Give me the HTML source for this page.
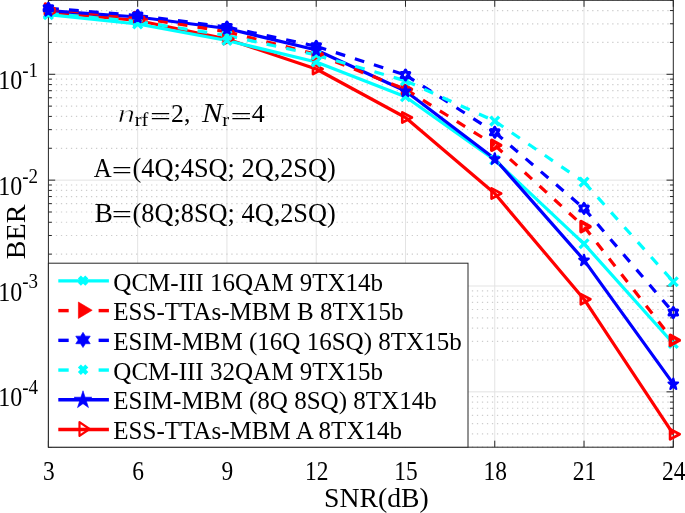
<!DOCTYPE html>
<html><head><meta charset="utf-8"><title>BER vs SNR</title>
<style>html,body{margin:0;padding:0;background:#fff;overflow:hidden}svg{display:block}</style>
</head><body>
<svg width="685" height="513" viewBox="0 0 685 513">
<rect x="0" y="0" width="685" height="513" fill="#fff"/>
<line x1="137.67" y1="0.3" x2="137.67" y2="447.2" stroke="#e3e3e3" stroke-width="1"/>
<line x1="226.94" y1="0.3" x2="226.94" y2="447.2" stroke="#e3e3e3" stroke-width="1"/>
<line x1="316.21" y1="0.3" x2="316.21" y2="447.2" stroke="#e3e3e3" stroke-width="1"/>
<line x1="405.49" y1="0.3" x2="405.49" y2="447.2" stroke="#e3e3e3" stroke-width="1"/>
<line x1="494.76" y1="0.3" x2="494.76" y2="447.2" stroke="#e3e3e3" stroke-width="1"/>
<line x1="584.03" y1="0.3" x2="584.03" y2="447.2" stroke="#e3e3e3" stroke-width="1"/>
<line x1="48.4" y1="391.85" x2="673.3" y2="391.85" stroke="#e3e3e3" stroke-width="1"/>
<line x1="48.4" y1="286.00" x2="673.3" y2="286.00" stroke="#e3e3e3" stroke-width="1"/>
<line x1="48.4" y1="180.14" x2="673.3" y2="180.14" stroke="#e3e3e3" stroke-width="1"/>
<line x1="48.4" y1="74.29" x2="673.3" y2="74.29" stroke="#e3e3e3" stroke-width="1"/>
<line x1="50.85" y1="447.20" x2="673.3" y2="447.20" stroke="#cdcdcd" stroke-width="1.2" stroke-dasharray="1.3 3.712"/>
<line x1="50.85" y1="433.97" x2="673.3" y2="433.97" stroke="#cdcdcd" stroke-width="1.2" stroke-dasharray="1.3 3.712"/>
<line x1="50.85" y1="423.72" x2="673.3" y2="423.72" stroke="#cdcdcd" stroke-width="1.2" stroke-dasharray="1.3 3.712"/>
<line x1="50.85" y1="415.33" x2="673.3" y2="415.33" stroke="#cdcdcd" stroke-width="1.2" stroke-dasharray="1.3 3.712"/>
<line x1="50.85" y1="408.25" x2="673.3" y2="408.25" stroke="#cdcdcd" stroke-width="1.2" stroke-dasharray="1.3 3.712"/>
<line x1="50.85" y1="402.11" x2="673.3" y2="402.11" stroke="#cdcdcd" stroke-width="1.2" stroke-dasharray="1.3 3.712"/>
<line x1="50.85" y1="396.69" x2="673.3" y2="396.69" stroke="#cdcdcd" stroke-width="1.2" stroke-dasharray="1.3 3.712"/>
<line x1="50.85" y1="359.99" x2="673.3" y2="359.99" stroke="#cdcdcd" stroke-width="1.2" stroke-dasharray="1.3 3.712"/>
<line x1="50.85" y1="341.35" x2="673.3" y2="341.35" stroke="#cdcdcd" stroke-width="1.2" stroke-dasharray="1.3 3.712"/>
<line x1="50.85" y1="328.12" x2="673.3" y2="328.12" stroke="#cdcdcd" stroke-width="1.2" stroke-dasharray="1.3 3.712"/>
<line x1="50.85" y1="317.86" x2="673.3" y2="317.86" stroke="#cdcdcd" stroke-width="1.2" stroke-dasharray="1.3 3.712"/>
<line x1="50.85" y1="309.48" x2="673.3" y2="309.48" stroke="#cdcdcd" stroke-width="1.2" stroke-dasharray="1.3 3.712"/>
<line x1="50.85" y1="302.39" x2="673.3" y2="302.39" stroke="#cdcdcd" stroke-width="1.2" stroke-dasharray="1.3 3.712"/>
<line x1="50.85" y1="296.26" x2="673.3" y2="296.26" stroke="#cdcdcd" stroke-width="1.2" stroke-dasharray="1.3 3.712"/>
<line x1="50.85" y1="290.84" x2="673.3" y2="290.84" stroke="#cdcdcd" stroke-width="1.2" stroke-dasharray="1.3 3.712"/>
<line x1="50.85" y1="254.13" x2="673.3" y2="254.13" stroke="#cdcdcd" stroke-width="1.2" stroke-dasharray="1.3 3.712"/>
<line x1="50.85" y1="235.49" x2="673.3" y2="235.49" stroke="#cdcdcd" stroke-width="1.2" stroke-dasharray="1.3 3.712"/>
<line x1="50.85" y1="222.27" x2="673.3" y2="222.27" stroke="#cdcdcd" stroke-width="1.2" stroke-dasharray="1.3 3.712"/>
<line x1="50.85" y1="212.01" x2="673.3" y2="212.01" stroke="#cdcdcd" stroke-width="1.2" stroke-dasharray="1.3 3.712"/>
<line x1="50.85" y1="203.63" x2="673.3" y2="203.63" stroke="#cdcdcd" stroke-width="1.2" stroke-dasharray="1.3 3.712"/>
<line x1="50.85" y1="196.54" x2="673.3" y2="196.54" stroke="#cdcdcd" stroke-width="1.2" stroke-dasharray="1.3 3.712"/>
<line x1="50.85" y1="190.40" x2="673.3" y2="190.40" stroke="#cdcdcd" stroke-width="1.2" stroke-dasharray="1.3 3.712"/>
<line x1="50.85" y1="184.99" x2="673.3" y2="184.99" stroke="#cdcdcd" stroke-width="1.2" stroke-dasharray="1.3 3.712"/>
<line x1="50.85" y1="148.28" x2="673.3" y2="148.28" stroke="#cdcdcd" stroke-width="1.2" stroke-dasharray="1.3 3.712"/>
<line x1="50.85" y1="129.64" x2="673.3" y2="129.64" stroke="#cdcdcd" stroke-width="1.2" stroke-dasharray="1.3 3.712"/>
<line x1="50.85" y1="116.41" x2="673.3" y2="116.41" stroke="#cdcdcd" stroke-width="1.2" stroke-dasharray="1.3 3.712"/>
<line x1="50.85" y1="106.15" x2="673.3" y2="106.15" stroke="#cdcdcd" stroke-width="1.2" stroke-dasharray="1.3 3.712"/>
<line x1="50.85" y1="97.77" x2="673.3" y2="97.77" stroke="#cdcdcd" stroke-width="1.2" stroke-dasharray="1.3 3.712"/>
<line x1="50.85" y1="90.69" x2="673.3" y2="90.69" stroke="#cdcdcd" stroke-width="1.2" stroke-dasharray="1.3 3.712"/>
<line x1="50.85" y1="84.55" x2="673.3" y2="84.55" stroke="#cdcdcd" stroke-width="1.2" stroke-dasharray="1.3 3.712"/>
<line x1="50.85" y1="79.13" x2="673.3" y2="79.13" stroke="#cdcdcd" stroke-width="1.2" stroke-dasharray="1.3 3.712"/>
<line x1="50.85" y1="42.42" x2="673.3" y2="42.42" stroke="#cdcdcd" stroke-width="1.2" stroke-dasharray="1.3 3.712"/>
<line x1="50.85" y1="23.78" x2="673.3" y2="23.78" stroke="#cdcdcd" stroke-width="1.2" stroke-dasharray="1.3 3.712"/>
<line x1="50.85" y1="10.56" x2="673.3" y2="10.56" stroke="#cdcdcd" stroke-width="1.2" stroke-dasharray="1.3 3.712"/>
<line x1="50.85" y1="0.30" x2="673.3" y2="0.30" stroke="#cdcdcd" stroke-width="1.2" stroke-dasharray="1.3 3.712"/>
<rect x="48.4" y="0.3" width="624.90" height="446.90" fill="none" stroke="#262626" stroke-width="1"/>
<line x1="48.40" y1="447.2" x2="48.40" y2="440.7" stroke="#262626" stroke-width="1"/>
<line x1="48.40" y1="0.3" x2="48.40" y2="6.8" stroke="#262626" stroke-width="1"/>
<line x1="137.67" y1="447.2" x2="137.67" y2="440.7" stroke="#262626" stroke-width="1"/>
<line x1="137.67" y1="0.3" x2="137.67" y2="6.8" stroke="#262626" stroke-width="1"/>
<line x1="226.94" y1="447.2" x2="226.94" y2="440.7" stroke="#262626" stroke-width="1"/>
<line x1="226.94" y1="0.3" x2="226.94" y2="6.8" stroke="#262626" stroke-width="1"/>
<line x1="316.21" y1="447.2" x2="316.21" y2="440.7" stroke="#262626" stroke-width="1"/>
<line x1="316.21" y1="0.3" x2="316.21" y2="6.8" stroke="#262626" stroke-width="1"/>
<line x1="405.49" y1="447.2" x2="405.49" y2="440.7" stroke="#262626" stroke-width="1"/>
<line x1="405.49" y1="0.3" x2="405.49" y2="6.8" stroke="#262626" stroke-width="1"/>
<line x1="494.76" y1="447.2" x2="494.76" y2="440.7" stroke="#262626" stroke-width="1"/>
<line x1="494.76" y1="0.3" x2="494.76" y2="6.8" stroke="#262626" stroke-width="1"/>
<line x1="584.03" y1="447.2" x2="584.03" y2="440.7" stroke="#262626" stroke-width="1"/>
<line x1="584.03" y1="0.3" x2="584.03" y2="6.8" stroke="#262626" stroke-width="1"/>
<line x1="673.30" y1="447.2" x2="673.30" y2="440.7" stroke="#262626" stroke-width="1"/>
<line x1="673.30" y1="0.3" x2="673.30" y2="6.8" stroke="#262626" stroke-width="1"/>
<line x1="48.4" y1="447.20" x2="51.8" y2="447.20" stroke="#262626" stroke-width="1"/>
<line x1="673.3" y1="447.20" x2="669.9" y2="447.20" stroke="#262626" stroke-width="1"/>
<line x1="48.4" y1="433.97" x2="51.8" y2="433.97" stroke="#262626" stroke-width="1"/>
<line x1="673.3" y1="433.97" x2="669.9" y2="433.97" stroke="#262626" stroke-width="1"/>
<line x1="48.4" y1="423.72" x2="51.8" y2="423.72" stroke="#262626" stroke-width="1"/>
<line x1="673.3" y1="423.72" x2="669.9" y2="423.72" stroke="#262626" stroke-width="1"/>
<line x1="48.4" y1="415.33" x2="51.8" y2="415.33" stroke="#262626" stroke-width="1"/>
<line x1="673.3" y1="415.33" x2="669.9" y2="415.33" stroke="#262626" stroke-width="1"/>
<line x1="48.4" y1="408.25" x2="51.8" y2="408.25" stroke="#262626" stroke-width="1"/>
<line x1="673.3" y1="408.25" x2="669.9" y2="408.25" stroke="#262626" stroke-width="1"/>
<line x1="48.4" y1="402.11" x2="51.8" y2="402.11" stroke="#262626" stroke-width="1"/>
<line x1="673.3" y1="402.11" x2="669.9" y2="402.11" stroke="#262626" stroke-width="1"/>
<line x1="48.4" y1="396.69" x2="51.8" y2="396.69" stroke="#262626" stroke-width="1"/>
<line x1="673.3" y1="396.69" x2="669.9" y2="396.69" stroke="#262626" stroke-width="1"/>
<line x1="48.4" y1="391.85" x2="55.199999999999996" y2="391.85" stroke="#262626" stroke-width="1"/>
<line x1="673.3" y1="391.85" x2="666.5" y2="391.85" stroke="#262626" stroke-width="1"/>
<line x1="48.4" y1="359.99" x2="51.8" y2="359.99" stroke="#262626" stroke-width="1"/>
<line x1="673.3" y1="359.99" x2="669.9" y2="359.99" stroke="#262626" stroke-width="1"/>
<line x1="48.4" y1="341.35" x2="51.8" y2="341.35" stroke="#262626" stroke-width="1"/>
<line x1="673.3" y1="341.35" x2="669.9" y2="341.35" stroke="#262626" stroke-width="1"/>
<line x1="48.4" y1="328.12" x2="51.8" y2="328.12" stroke="#262626" stroke-width="1"/>
<line x1="673.3" y1="328.12" x2="669.9" y2="328.12" stroke="#262626" stroke-width="1"/>
<line x1="48.4" y1="317.86" x2="51.8" y2="317.86" stroke="#262626" stroke-width="1"/>
<line x1="673.3" y1="317.86" x2="669.9" y2="317.86" stroke="#262626" stroke-width="1"/>
<line x1="48.4" y1="309.48" x2="51.8" y2="309.48" stroke="#262626" stroke-width="1"/>
<line x1="673.3" y1="309.48" x2="669.9" y2="309.48" stroke="#262626" stroke-width="1"/>
<line x1="48.4" y1="302.39" x2="51.8" y2="302.39" stroke="#262626" stroke-width="1"/>
<line x1="673.3" y1="302.39" x2="669.9" y2="302.39" stroke="#262626" stroke-width="1"/>
<line x1="48.4" y1="296.26" x2="51.8" y2="296.26" stroke="#262626" stroke-width="1"/>
<line x1="673.3" y1="296.26" x2="669.9" y2="296.26" stroke="#262626" stroke-width="1"/>
<line x1="48.4" y1="290.84" x2="51.8" y2="290.84" stroke="#262626" stroke-width="1"/>
<line x1="673.3" y1="290.84" x2="669.9" y2="290.84" stroke="#262626" stroke-width="1"/>
<line x1="48.4" y1="286.00" x2="55.199999999999996" y2="286.00" stroke="#262626" stroke-width="1"/>
<line x1="673.3" y1="286.00" x2="666.5" y2="286.00" stroke="#262626" stroke-width="1"/>
<line x1="48.4" y1="254.13" x2="51.8" y2="254.13" stroke="#262626" stroke-width="1"/>
<line x1="673.3" y1="254.13" x2="669.9" y2="254.13" stroke="#262626" stroke-width="1"/>
<line x1="48.4" y1="235.49" x2="51.8" y2="235.49" stroke="#262626" stroke-width="1"/>
<line x1="673.3" y1="235.49" x2="669.9" y2="235.49" stroke="#262626" stroke-width="1"/>
<line x1="48.4" y1="222.27" x2="51.8" y2="222.27" stroke="#262626" stroke-width="1"/>
<line x1="673.3" y1="222.27" x2="669.9" y2="222.27" stroke="#262626" stroke-width="1"/>
<line x1="48.4" y1="212.01" x2="51.8" y2="212.01" stroke="#262626" stroke-width="1"/>
<line x1="673.3" y1="212.01" x2="669.9" y2="212.01" stroke="#262626" stroke-width="1"/>
<line x1="48.4" y1="203.63" x2="51.8" y2="203.63" stroke="#262626" stroke-width="1"/>
<line x1="673.3" y1="203.63" x2="669.9" y2="203.63" stroke="#262626" stroke-width="1"/>
<line x1="48.4" y1="196.54" x2="51.8" y2="196.54" stroke="#262626" stroke-width="1"/>
<line x1="673.3" y1="196.54" x2="669.9" y2="196.54" stroke="#262626" stroke-width="1"/>
<line x1="48.4" y1="190.40" x2="51.8" y2="190.40" stroke="#262626" stroke-width="1"/>
<line x1="673.3" y1="190.40" x2="669.9" y2="190.40" stroke="#262626" stroke-width="1"/>
<line x1="48.4" y1="184.99" x2="51.8" y2="184.99" stroke="#262626" stroke-width="1"/>
<line x1="673.3" y1="184.99" x2="669.9" y2="184.99" stroke="#262626" stroke-width="1"/>
<line x1="48.4" y1="180.14" x2="55.199999999999996" y2="180.14" stroke="#262626" stroke-width="1"/>
<line x1="673.3" y1="180.14" x2="666.5" y2="180.14" stroke="#262626" stroke-width="1"/>
<line x1="48.4" y1="148.28" x2="51.8" y2="148.28" stroke="#262626" stroke-width="1"/>
<line x1="673.3" y1="148.28" x2="669.9" y2="148.28" stroke="#262626" stroke-width="1"/>
<line x1="48.4" y1="129.64" x2="51.8" y2="129.64" stroke="#262626" stroke-width="1"/>
<line x1="673.3" y1="129.64" x2="669.9" y2="129.64" stroke="#262626" stroke-width="1"/>
<line x1="48.4" y1="116.41" x2="51.8" y2="116.41" stroke="#262626" stroke-width="1"/>
<line x1="673.3" y1="116.41" x2="669.9" y2="116.41" stroke="#262626" stroke-width="1"/>
<line x1="48.4" y1="106.15" x2="51.8" y2="106.15" stroke="#262626" stroke-width="1"/>
<line x1="673.3" y1="106.15" x2="669.9" y2="106.15" stroke="#262626" stroke-width="1"/>
<line x1="48.4" y1="97.77" x2="51.8" y2="97.77" stroke="#262626" stroke-width="1"/>
<line x1="673.3" y1="97.77" x2="669.9" y2="97.77" stroke="#262626" stroke-width="1"/>
<line x1="48.4" y1="90.69" x2="51.8" y2="90.69" stroke="#262626" stroke-width="1"/>
<line x1="673.3" y1="90.69" x2="669.9" y2="90.69" stroke="#262626" stroke-width="1"/>
<line x1="48.4" y1="84.55" x2="51.8" y2="84.55" stroke="#262626" stroke-width="1"/>
<line x1="673.3" y1="84.55" x2="669.9" y2="84.55" stroke="#262626" stroke-width="1"/>
<line x1="48.4" y1="79.13" x2="51.8" y2="79.13" stroke="#262626" stroke-width="1"/>
<line x1="673.3" y1="79.13" x2="669.9" y2="79.13" stroke="#262626" stroke-width="1"/>
<line x1="48.4" y1="74.29" x2="55.199999999999996" y2="74.29" stroke="#262626" stroke-width="1"/>
<line x1="673.3" y1="74.29" x2="666.5" y2="74.29" stroke="#262626" stroke-width="1"/>
<line x1="48.4" y1="42.42" x2="51.8" y2="42.42" stroke="#262626" stroke-width="1"/>
<line x1="673.3" y1="42.42" x2="669.9" y2="42.42" stroke="#262626" stroke-width="1"/>
<line x1="48.4" y1="23.78" x2="51.8" y2="23.78" stroke="#262626" stroke-width="1"/>
<line x1="673.3" y1="23.78" x2="669.9" y2="23.78" stroke="#262626" stroke-width="1"/>
<line x1="48.4" y1="10.56" x2="51.8" y2="10.56" stroke="#262626" stroke-width="1"/>
<line x1="673.3" y1="10.56" x2="669.9" y2="10.56" stroke="#262626" stroke-width="1"/>
<line x1="48.4" y1="0.30" x2="51.8" y2="0.30" stroke="#262626" stroke-width="1"/>
<line x1="673.3" y1="0.30" x2="669.9" y2="0.30" stroke="#262626" stroke-width="1"/>
<polyline points="48.40,12.20 137.67,20.50 226.94,39.00 316.21,69.00 405.49,117.50 494.76,193.50 584.03,299.20 673.30,434.20" fill="none" stroke="#ff0000" stroke-width="3.2" stroke-linejoin="round"/>
<polyline points="48.40,14.70 137.67,24.00 226.94,40.50 316.21,62.00 405.49,96.80 494.76,160.00 584.03,243.80 673.30,343.50" fill="none" stroke="#00ffff" stroke-width="3.2" stroke-linejoin="round"/>
<polyline points="48.40,10.60 137.67,17.00 226.94,28.50 316.21,50.00 405.49,91.00 494.76,158.70 584.03,260.10 673.30,383.90" fill="none" stroke="#0000ff" stroke-width="3.2" stroke-linejoin="round"/>
<path d="M48.40 9.00L137.67 17.60" fill="none" stroke="#ff0000" stroke-width="3.2" stroke-dasharray="9.8 10.2" stroke-dashoffset="-0.6"/>
<path d="M137.67 17.60L226.94 31.80" fill="none" stroke="#ff0000" stroke-width="3.2" stroke-dasharray="9.8 10.2" stroke-dashoffset="-0.6"/>
<path d="M226.94 31.80L316.21 54.30" fill="none" stroke="#ff0000" stroke-width="3.2" stroke-dasharray="9.8 10.2" stroke-dashoffset="-0.6"/>
<path d="M316.21 54.30L405.49 89.20" fill="none" stroke="#ff0000" stroke-width="3.2" stroke-dasharray="9.8 10.2" stroke-dashoffset="-0.6"/>
<path d="M405.49 89.20L494.76 145.20" fill="none" stroke="#ff0000" stroke-width="3.2" stroke-dasharray="9.8 10.2" stroke-dashoffset="-0.6"/>
<path d="M494.76 145.20L584.03 226.60" fill="none" stroke="#ff0000" stroke-width="3.2" stroke-dasharray="9.8 10.2" stroke-dashoffset="-0.6"/>
<path d="M584.03 226.60L673.30 340.30" fill="none" stroke="#ff0000" stroke-width="3.2" stroke-dasharray="9.8 10.2" stroke-dashoffset="-0.6"/>
<path d="M48.40 8.20L137.67 15.50" fill="none" stroke="#0000ff" stroke-width="3.2" stroke-dasharray="9.8 10.2" stroke-dashoffset="-0.6"/>
<path d="M137.67 15.50L226.94 27.00" fill="none" stroke="#0000ff" stroke-width="3.2" stroke-dasharray="9.8 10.2" stroke-dashoffset="-0.6"/>
<path d="M226.94 27.00L316.21 46.30" fill="none" stroke="#0000ff" stroke-width="3.2" stroke-dasharray="9.8 10.2" stroke-dashoffset="-0.6"/>
<path d="M316.21 46.30L405.49 75.00" fill="none" stroke="#0000ff" stroke-width="3.2" stroke-dasharray="9.8 10.2" stroke-dashoffset="-0.6"/>
<path d="M405.49 75.00L494.76 132.30" fill="none" stroke="#0000ff" stroke-width="3.2" stroke-dasharray="9.8 10.2" stroke-dashoffset="-0.6"/>
<path d="M494.76 132.30L584.03 208.40" fill="none" stroke="#0000ff" stroke-width="3.2" stroke-dasharray="9.8 10.2" stroke-dashoffset="-0.6"/>
<path d="M584.03 208.40L673.30 312.50" fill="none" stroke="#0000ff" stroke-width="3.2" stroke-dasharray="9.8 10.2" stroke-dashoffset="-0.6"/>
<path d="M48.40 13.50L137.67 21.50" fill="none" stroke="#00ffff" stroke-width="3.2" stroke-dasharray="9.8 10.2" stroke-dashoffset="-0.6"/>
<path d="M137.67 21.50L226.94 35.50" fill="none" stroke="#00ffff" stroke-width="3.2" stroke-dasharray="9.8 10.2" stroke-dashoffset="-0.6"/>
<path d="M226.94 35.50L316.21 55.00" fill="none" stroke="#00ffff" stroke-width="3.2" stroke-dasharray="9.8 10.2" stroke-dashoffset="-0.6"/>
<path d="M316.21 55.00L405.49 80.80" fill="none" stroke="#00ffff" stroke-width="3.2" stroke-dasharray="9.8 10.2" stroke-dashoffset="-0.6"/>
<path d="M405.49 80.80L494.76 121.10" fill="none" stroke="#00ffff" stroke-width="3.2" stroke-dasharray="9.8 10.2" stroke-dashoffset="-0.6"/>
<path d="M494.76 121.10L584.03 182.10" fill="none" stroke="#00ffff" stroke-width="3.2" stroke-dasharray="9.8 10.2" stroke-dashoffset="-0.6"/>
<path d="M584.03 182.10L673.30 281.70" fill="none" stroke="#00ffff" stroke-width="3.2" stroke-dasharray="9.8 10.2" stroke-dashoffset="-0.6"/>
<polygon points="45.20,7.10 54.80,12.20 45.20,17.30" fill="none" stroke="#ff0000" stroke-width="2.7" stroke-linejoin="round"/>
<polygon points="134.47,15.40 144.07,20.50 134.47,25.60" fill="none" stroke="#ff0000" stroke-width="2.7" stroke-linejoin="round"/>
<polygon points="223.74,33.90 233.34,39.00 223.74,44.10" fill="none" stroke="#ff0000" stroke-width="2.7" stroke-linejoin="round"/>
<polygon points="313.01,63.90 322.61,69.00 313.01,74.10" fill="none" stroke="#ff0000" stroke-width="2.7" stroke-linejoin="round"/>
<polygon points="402.29,112.40 411.89,117.50 402.29,122.60" fill="none" stroke="#ff0000" stroke-width="2.7" stroke-linejoin="round"/>
<polygon points="491.56,188.40 501.16,193.50 491.56,198.60" fill="none" stroke="#ff0000" stroke-width="2.7" stroke-linejoin="round"/>
<polygon points="580.83,294.10 590.43,299.20 580.83,304.30" fill="none" stroke="#ff0000" stroke-width="2.7" stroke-linejoin="round"/>
<polygon points="670.10,429.10 679.70,434.20 670.10,439.30" fill="none" stroke="#ff0000" stroke-width="2.7" stroke-linejoin="round"/>
<path d="M44.00 10.30L52.80 19.10M44.00 19.10L52.80 10.30" stroke="#00ffff" stroke-width="3.3" fill="none"/>
<path d="M133.27 19.60L142.07 28.40M133.27 28.40L142.07 19.60" stroke="#00ffff" stroke-width="3.3" fill="none"/>
<path d="M222.54 36.10L231.34 44.90M222.54 44.90L231.34 36.10" stroke="#00ffff" stroke-width="3.3" fill="none"/>
<path d="M311.81 57.60L320.61 66.40M311.81 66.40L320.61 57.60" stroke="#00ffff" stroke-width="3.3" fill="none"/>
<path d="M401.09 92.40L409.89 101.20M401.09 101.20L409.89 92.40" stroke="#00ffff" stroke-width="3.3" fill="none"/>
<path d="M490.36 155.60L499.16 164.40M490.36 164.40L499.16 155.60" stroke="#00ffff" stroke-width="3.3" fill="none"/>
<path d="M579.63 239.40L588.43 248.20M579.63 248.20L588.43 239.40" stroke="#00ffff" stroke-width="3.3" fill="none"/>
<path d="M668.90 339.10L677.70 347.90M668.90 347.90L677.70 339.10" stroke="#00ffff" stroke-width="3.3" fill="none"/>
<polygon points="45.40,4.00 54.40,9.00 45.40,14.00" fill="none" stroke="#ff0000" stroke-width="3.5" stroke-linejoin="round"/>
<polygon points="134.67,12.60 143.67,17.60 134.67,22.60" fill="none" stroke="#ff0000" stroke-width="3.5" stroke-linejoin="round"/>
<polygon points="223.94,26.80 232.94,31.80 223.94,36.80" fill="none" stroke="#ff0000" stroke-width="3.5" stroke-linejoin="round"/>
<polygon points="313.21,49.30 322.21,54.30 313.21,59.30" fill="none" stroke="#ff0000" stroke-width="3.5" stroke-linejoin="round"/>
<polygon points="402.49,84.20 411.49,89.20 402.49,94.20" fill="none" stroke="#ff0000" stroke-width="3.5" stroke-linejoin="round"/>
<polygon points="491.76,140.20 500.76,145.20 491.76,150.20" fill="none" stroke="#ff0000" stroke-width="3.5" stroke-linejoin="round"/>
<polygon points="581.03,221.60 590.03,226.60 581.03,231.60" fill="none" stroke="#ff0000" stroke-width="3.5" stroke-linejoin="round"/>
<polygon points="670.30,335.30 679.30,340.30 670.30,345.30" fill="none" stroke="#ff0000" stroke-width="3.5" stroke-linejoin="round"/>
<path d="M44.00 9.10L52.80 17.90M44.00 17.90L52.80 9.10" stroke="#00ffff" stroke-width="3.3" fill="none"/>
<path d="M133.27 17.10L142.07 25.90M133.27 25.90L142.07 17.10" stroke="#00ffff" stroke-width="3.3" fill="none"/>
<path d="M222.54 31.10L231.34 39.90M222.54 39.90L231.34 31.10" stroke="#00ffff" stroke-width="3.3" fill="none"/>
<path d="M311.81 50.60L320.61 59.40M311.81 59.40L320.61 50.60" stroke="#00ffff" stroke-width="3.3" fill="none"/>
<path d="M401.09 76.40L409.89 85.20M401.09 85.20L409.89 76.40" stroke="#00ffff" stroke-width="3.3" fill="none"/>
<path d="M490.36 116.70L499.16 125.50M490.36 125.50L499.16 116.70" stroke="#00ffff" stroke-width="3.3" fill="none"/>
<path d="M579.63 177.70L588.43 186.50M579.63 186.50L588.43 177.70" stroke="#00ffff" stroke-width="3.3" fill="none"/>
<path d="M668.90 277.30L677.70 286.10M668.90 286.10L677.70 277.30" stroke="#00ffff" stroke-width="3.3" fill="none"/>
<polygon points="48.40,3.30 49.81,5.75 52.64,5.75 51.23,8.20 52.64,10.65 49.81,10.65 48.40,13.10 46.99,10.65 44.16,10.65 45.57,8.20 44.16,5.75 46.99,5.75" fill="none" stroke="#0000ff" stroke-width="3.1" stroke-linejoin="round"/>
<polygon points="137.67,10.60 139.09,13.05 141.91,13.05 140.50,15.50 141.91,17.95 139.09,17.95 137.67,20.40 136.26,17.95 133.43,17.95 134.84,15.50 133.43,13.05 136.26,13.05" fill="none" stroke="#0000ff" stroke-width="3.1" stroke-linejoin="round"/>
<polygon points="226.94,22.10 228.36,24.55 231.19,24.55 229.77,27.00 231.19,29.45 228.36,29.45 226.94,31.90 225.53,29.45 222.70,29.45 224.12,27.00 222.70,24.55 225.53,24.55" fill="none" stroke="#0000ff" stroke-width="3.1" stroke-linejoin="round"/>
<polygon points="316.21,41.40 317.63,43.85 320.46,43.85 319.04,46.30 320.46,48.75 317.63,48.75 316.21,51.20 314.80,48.75 311.97,48.75 313.39,46.30 311.97,43.85 314.80,43.85" fill="none" stroke="#0000ff" stroke-width="3.1" stroke-linejoin="round"/>
<polygon points="405.49,70.10 406.90,72.55 409.73,72.55 408.31,75.00 409.73,77.45 406.90,77.45 405.49,79.90 404.07,77.45 401.24,77.45 402.66,75.00 401.24,72.55 404.07,72.55" fill="none" stroke="#0000ff" stroke-width="3.1" stroke-linejoin="round"/>
<polygon points="494.76,127.40 496.17,129.85 499.00,129.85 497.58,132.30 499.00,134.75 496.17,134.75 494.76,137.20 493.34,134.75 490.51,134.75 491.93,132.30 490.51,129.85 493.34,129.85" fill="none" stroke="#0000ff" stroke-width="3.1" stroke-linejoin="round"/>
<polygon points="584.03,203.50 585.44,205.95 588.27,205.95 586.86,208.40 588.27,210.85 585.44,210.85 584.03,213.30 582.61,210.85 579.79,210.85 581.20,208.40 579.79,205.95 582.61,205.95" fill="none" stroke="#0000ff" stroke-width="3.1" stroke-linejoin="round"/>
<polygon points="673.30,307.60 674.71,310.05 677.54,310.05 676.13,312.50 677.54,314.95 674.71,314.95 673.30,317.40 671.89,314.95 669.06,314.95 670.47,312.50 669.06,310.05 671.89,310.05" fill="none" stroke="#0000ff" stroke-width="3.1" stroke-linejoin="round"/>
<polygon points="48.40,5.25 49.52,9.22 53.16,9.22 50.22,11.68 51.34,15.65 48.40,13.20 45.46,15.65 46.58,11.68 43.64,9.22 47.28,9.22" fill="#0000ff" stroke="#0000ff" stroke-width="2.2" stroke-linejoin="round"/>
<polygon points="137.67,11.65 138.79,15.62 142.43,15.62 139.49,18.08 140.61,22.05 137.67,19.60 134.73,22.05 135.85,18.08 132.92,15.62 136.55,15.62" fill="#0000ff" stroke="#0000ff" stroke-width="2.2" stroke-linejoin="round"/>
<polygon points="226.94,23.15 228.07,27.12 231.70,27.12 228.76,29.58 229.88,33.55 226.94,31.10 224.00,33.55 225.13,29.58 222.19,27.12 225.82,27.12" fill="#0000ff" stroke="#0000ff" stroke-width="2.2" stroke-linejoin="round"/>
<polygon points="316.21,44.65 317.34,48.62 320.97,48.62 318.03,51.08 319.15,55.05 316.21,52.60 313.28,55.05 314.40,51.08 311.46,48.62 315.09,48.62" fill="#0000ff" stroke="#0000ff" stroke-width="2.2" stroke-linejoin="round"/>
<polygon points="405.49,85.65 406.61,89.62 410.24,89.62 407.30,92.08 408.42,96.05 405.49,93.60 402.55,96.05 403.67,92.08 400.73,89.62 404.36,89.62" fill="#0000ff" stroke="#0000ff" stroke-width="2.2" stroke-linejoin="round"/>
<polygon points="494.76,153.35 495.88,157.32 499.51,157.32 496.57,159.78 497.70,163.75 494.76,161.30 491.82,163.75 492.94,159.78 490.00,157.32 493.63,157.32" fill="#0000ff" stroke="#0000ff" stroke-width="2.2" stroke-linejoin="round"/>
<polygon points="584.03,254.75 585.15,258.72 588.78,258.72 585.85,261.18 586.97,265.15 584.03,262.70 581.09,265.15 582.21,261.18 579.27,258.72 582.91,258.72" fill="#0000ff" stroke="#0000ff" stroke-width="2.2" stroke-linejoin="round"/>
<polygon points="673.30,378.55 674.42,382.52 678.06,382.52 675.12,384.98 676.24,388.95 673.30,386.50 670.36,388.95 671.48,384.98 668.54,382.52 672.18,382.52" fill="#0000ff" stroke="#0000ff" stroke-width="2.2" stroke-linejoin="round"/>
<text transform="translate(48.90,479.6) scale(0.977,1.14)" font-family="Liberation Serif, serif" font-size="24" text-anchor="middle" fill="#000">3</text>
<text transform="translate(138.17,479.6) scale(0.977,1.14)" font-family="Liberation Serif, serif" font-size="24" text-anchor="middle" fill="#000">6</text>
<text transform="translate(227.44,479.6) scale(0.977,1.14)" font-family="Liberation Serif, serif" font-size="24" text-anchor="middle" fill="#000">9</text>
<text transform="translate(316.71,479.6) scale(0.977,1.14)" font-family="Liberation Serif, serif" font-size="24" text-anchor="middle" fill="#000">12</text>
<text transform="translate(405.99,479.6) scale(0.977,1.14)" font-family="Liberation Serif, serif" font-size="24" text-anchor="middle" fill="#000">15</text>
<text transform="translate(495.26,479.6) scale(0.977,1.14)" font-family="Liberation Serif, serif" font-size="24" text-anchor="middle" fill="#000">18</text>
<text transform="translate(584.53,479.6) scale(0.977,1.14)" font-family="Liberation Serif, serif" font-size="24" text-anchor="middle" fill="#000">21</text>
<text transform="translate(673.80,479.6) scale(0.977,1.14)" font-family="Liberation Serif, serif" font-size="24" text-anchor="middle" fill="#000">24</text>
<text transform="translate(-1.7,406.45) scale(1.0,1.125)" font-family="Liberation Serif, serif" font-size="24" fill="#000">10<tspan dy="-10.8" font-size="19">-4</tspan></text>
<text transform="translate(-1.7,300.60) scale(1.0,1.125)" font-family="Liberation Serif, serif" font-size="24" fill="#000">10<tspan dy="-10.8" font-size="19">-3</tspan></text>
<text transform="translate(-1.7,194.74) scale(1.0,1.125)" font-family="Liberation Serif, serif" font-size="24" fill="#000">10<tspan dy="-10.8" font-size="19">-2</tspan></text>
<text transform="translate(-1.7,88.89) scale(1.0,1.125)" font-family="Liberation Serif, serif" font-size="24" fill="#000">10<tspan dy="-10.8" font-size="19">-1</tspan></text>
<text transform="translate(376.4,506.6)" font-family="Liberation Serif, serif" font-size="27.7" text-anchor="middle" fill="#000">SNR(dB)</text>
<text transform="translate(24.6,231.9) rotate(-90)" font-family="Liberation Serif, serif" font-size="28" text-anchor="middle" fill="#000">BER</text>
<text transform="translate(93.87,177.40) scale(0.920,1.030)" font-family="Liberation Serif, serif" font-size="27" fill="#000">A</text>
<text transform="translate(111.74,178.60) scale(1.330,0.950)" font-family="Liberation Serif, serif" font-size="27" fill="#000">=</text>
<text transform="translate(132.58,177.40) scale(0.975,1.030)" font-family="Liberation Serif, serif" font-size="27" fill="#000">(4Q;4SQ; 2Q,2SQ)</text>
<text transform="translate(94.53,221.90) scale(1.020,1.030)" font-family="Liberation Serif, serif" font-size="27" fill="#000">B</text>
<text transform="translate(111.74,223.10) scale(1.330,0.950)" font-family="Liberation Serif, serif" font-size="27" fill="#000">=</text>
<text transform="translate(132.58,221.90) scale(0.975,1.030)" font-family="Liberation Serif, serif" font-size="27" fill="#000">(8Q;8SQ; 4Q,2SQ)</text>
<text transform="translate(117.58,121.60) scale(1.320,0.957)" font-family="Liberation Serif, serif" font-size="27" font-style="italic" fill="#000" stroke="#fff" stroke-width="0.7">n</text>
<text transform="translate(134.73,125.70) scale(1.080,1.010)" font-family="Liberation Serif, serif" font-size="19" fill="#000">rf</text>
<text transform="translate(150.08,123.60) scale(1.380,0.840)" font-family="Liberation Serif, serif" font-size="27" fill="#000">=</text>
<text transform="translate(171.11,121.60) scale(0.950,0.970)" font-family="Liberation Serif, serif" font-size="27" fill="#000">2,</text>
<text transform="translate(202.09,121.60) scale(1.140,1.050)" font-family="Liberation Serif, serif" font-size="27" font-style="italic" fill="#000">N</text>
<text transform="translate(222.32,125.70) scale(1.100,1.030)" font-family="Liberation Serif, serif" font-size="19" fill="#000">r</text>
<text transform="translate(230.45,123.60) scale(1.400,0.840)" font-family="Liberation Serif, serif" font-size="27" fill="#000">=</text>
<text transform="translate(251.82,121.60) scale(0.960,0.970)" font-family="Liberation Serif, serif" font-size="27" fill="#000">4</text>
<rect x="48.4" y="263.2" width="419.60" height="184.00" fill="#fff" stroke="#262626" stroke-width="1"/>
<line x1="58.3" y1="280.90" x2="108.9" y2="280.90" stroke="#00ffff" stroke-width="3.4"/>
<path d="M79.40 276.90L86.80 284.30M79.40 284.30L86.80 276.90" stroke="#00ffff" stroke-width="4.3" fill="none"/>
<text transform="translate(113.3,290.60) scale(1.044,1.05)" font-family="Liberation Serif, serif" font-size="24" fill="#000">QCM-III 16QAM 9TX14b</text>
<line x1="58.3" y1="310.62" x2="68.7" y2="310.62" stroke="#ff0000" stroke-width="3.4"/>
<line x1="98.6" y1="310.62" x2="108.9" y2="310.62" stroke="#ff0000" stroke-width="3.4"/>
<polygon points="78.40,302.02 92.20,310.22 78.40,318.42" fill="#ff0000" stroke="#ff0000" stroke-width="0.6" stroke-linejoin="round"/>
<text transform="translate(113.3,320.32) scale(1.044,1.05)" font-family="Liberation Serif, serif" font-size="24" fill="#000">ESS-TTAs-MBM B 8TX15b</text>
<line x1="58.3" y1="340.34" x2="68.7" y2="340.34" stroke="#0000ff" stroke-width="3.4"/>
<line x1="98.6" y1="340.34" x2="108.9" y2="340.34" stroke="#0000ff" stroke-width="3.4"/>
<polygon points="83.00,332.34 85.41,336.14 90.24,336.14 87.82,339.94 90.24,343.74 85.41,343.74 83.00,347.54 80.59,343.74 75.76,343.74 78.18,339.94 75.76,336.14 80.59,336.14" fill="#0000ff" stroke="#0000ff" stroke-width="0.6" stroke-linejoin="round"/>
<text transform="translate(113.3,350.04) scale(1.044,1.05)" font-family="Liberation Serif, serif" font-size="24" fill="#000">ESIM-MBM (16Q 16SQ) 8TX15b</text>
<line x1="58.3" y1="370.06" x2="68.7" y2="370.06" stroke="#00ffff" stroke-width="3.4"/>
<line x1="98.6" y1="370.06" x2="108.9" y2="370.06" stroke="#00ffff" stroke-width="3.4"/>
<path d="M79.40 366.06L86.80 373.46M79.40 373.46L86.80 366.06" stroke="#00ffff" stroke-width="4.3" fill="none"/>
<text transform="translate(113.3,379.76) scale(1.044,1.05)" font-family="Liberation Serif, serif" font-size="24" fill="#000">QCM-III 32QAM 9TX15b</text>
<line x1="58.3" y1="399.78" x2="108.9" y2="399.78" stroke="#0000ff" stroke-width="3.4"/>
<polygon points="83.00,390.78 85.09,397.21 91.84,397.21 86.38,401.18 88.47,407.60 83.00,403.63 77.53,407.60 79.62,401.18 74.16,397.21 80.91,397.21" fill="#0000ff" stroke="#0000ff" stroke-width="0.6" stroke-linejoin="round"/>
<text transform="translate(113.3,409.48) scale(1.044,1.05)" font-family="Liberation Serif, serif" font-size="24" fill="#000">ESIM-MBM (8Q 8SQ) 8TX14b</text>
<line x1="58.3" y1="429.50" x2="108.9" y2="429.50" stroke="#ff0000" stroke-width="3.4"/>
<polygon points="79.50,422.20 89.55,429.00 79.50,435.80" fill="none" stroke="#ff0000" stroke-width="2.2" stroke-linejoin="round"/>
<text transform="translate(113.3,439.20) scale(1.044,1.05)" font-family="Liberation Serif, serif" font-size="24" fill="#000">ESS-TTAs-MBM A 8TX14b</text>
</svg>
</body></html>
